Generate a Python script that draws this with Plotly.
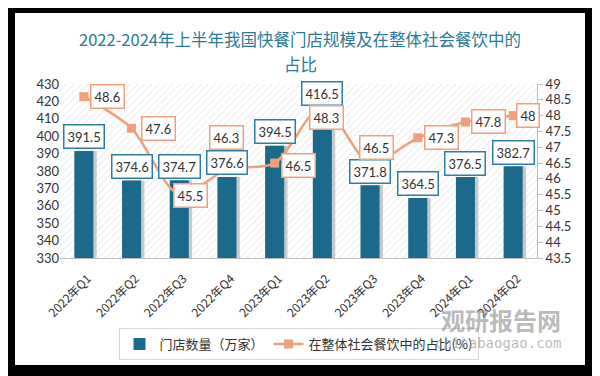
import plotly.graph_objects as go

categories = ["2022年Q1", "2022年Q2", "2022年Q3", "2022年Q4", "2023年Q1",
              "2023年Q2", "2023年Q3", "2023年Q4", "2024年Q1", "2024年Q2"]
stores = [391.5, 374.6, 374.7, 376.6, 394.5, 416.5, 371.8, 364.5, 376.5, 382.7]
share = [48.6, 47.6, 45.5, 46.3, 46.5, 48.3, 46.5, 47.3, 47.8, 48]
bar_name = "门店数量（万家）"
line_name = "在整体社会餐饮中的占比(%)"
title_line1 = "2022-2024年上半年我国快餐门店规模及在整体社会餐饮中的"
title_line2 = "占比"

# label offsets (pixels) for line labels
line_dx = [24, 27, 11, 0, 24, 4, 6, 24, 23, 15]
line_dy = [0, 0, -1, 32, -2, -11, 16, 0, 0, 0]

BAR = "#1C6A8B"
ORANGE = "#F0A07C"
TITLE_COLOR = "#2B7A9B"
xs = list(range(len(categories)))

# plot area in figure pixels
L, R, T, B = 52, 529, 76, 250
PW, PH = R - L, B - T


def px_x(p):
    return (p - L) / PW


def px_y(p):
    return (B - p) / PH


fig = go.Figure()

# hatched plot background
fig.add_trace(go.Bar(x=[4.5], y=[1], width=[10], xaxis="x", yaxis="y",
                     marker=dict(color="white", line=dict(width=0),
                                 pattern=dict(shape="/", fgcolor="#d6d6d6", bgcolor="white",
                                              size=5, solidity=0.2)),
                     showlegend=False, hoverinfo="skip"))

# bar shadows
fig.add_trace(go.Bar(x=xs, y=[v - 330 for v in stores], base=330, yaxis="y2", width=0.4, offset=-0.13,
                     marker=dict(color="rgba(110,110,110,0.35)", line=dict(width=0)),
                     showlegend=False, hoverinfo="skip"))
fig.add_trace(go.Bar(x=xs, y=[v - 330 for v in stores], base=330, yaxis="y2", width=0.4, offset=-0.2,
                     marker=dict(color=BAR, line=dict(width=0)), name=bar_name))
fig.add_trace(go.Scatter(x=xs, y=share, yaxis="y3", mode="lines+markers", name=line_name,
                         line=dict(color=ORANGE, width=2.5, shape="spline", smoothing=0.8),
                         marker=dict(symbol="square", size=9, color=ORANGE)))

ann = []
for i, v in enumerate(stores):
    ann.append(dict(x=i, y=v, xref="x", yref="y2", text=f"{v}", showarrow=False,
                    yshift=14, bgcolor="white", bordercolor="#2F7DA3", borderwidth=1.5,
                    borderpad=3, font=dict(size=13, color="#333333", family="Lato")))
for i, v in enumerate(share):
    ann.append(dict(x=i, y=v, xref="x", yref="y3", text=f"{v:g}", showarrow=False,
                    xshift=line_dx[i], yshift=line_dy[i], bgcolor="white", bordercolor=ORANGE,
                    borderwidth=1.5, borderpad=3, font=dict(size=13, color="#333333", family="Lato")))

# second title line
ann.append(dict(x=px_x(292), y=px_y(56), xref="paper", yref="paper", text=title_line2,
                showarrow=False, xanchor="center", yanchor="middle",
                font=dict(size=16.5, color=TITLE_COLOR, family="Noto Sans CJK SC")))

# watermark
ann.append(dict(x=px_x(493), y=px_y(311), xref="paper", yref="paper", text="<b>观研报告网</b>",
                showarrow=False, xanchor="center", yanchor="middle",
                font=dict(size=24, color="rgba(140,140,140,0.6)", family="Noto Sans CJK SC")))
ann.append(dict(x=px_x(490), y=px_y(335), xref="paper", yref="paper", text="chinabaogao.com",
                showarrow=False, xanchor="center", yanchor="middle",
                font=dict(size=14, color="rgba(140,140,140,0.6)", family="DejaVu Sans Mono")))

fig.update_layout(
    width=600, height=376,
    margin=dict(l=L, r=600 - R, t=T, b=376 - B),
    paper_bgcolor="black", plot_bgcolor="white",
    barmode="overlay",
    title=dict(text=title_line1, x=292 / 600, xanchor="center", y=1 - 32 / 376, yanchor="middle",
               yref="container",
               font=dict(size=16.5, color=TITLE_COLOR, family="Noto Sans CJK SC")),
    xaxis=dict(range=[-0.5, 9.5], tickvals=xs, ticktext=categories, tickangle=-45,
               showline=True, linecolor="#bfbfbf", linewidth=1, showgrid=False, ticks="",
               ticklabelstandoff=8, ticklabelshift=4,
               tickfont=dict(size=12, color="#333333", family="Noto Sans CJK SC"), zeroline=False),
    yaxis=dict(range=[0, 1], visible=False, fixedrange=True),
    yaxis2=dict(range=[330, 430], dtick=10, overlaying="y", side="left", showgrid=False,
                showline=False, ticks="", zeroline=False,
                tickfont=dict(size=13, color="#333333", family="Lato")),
    yaxis3=dict(range=[43.5, 49], dtick=0.5, overlaying="y", side="right", showgrid=False,
                showline=True, linecolor="#bfbfbf", ticks="outside", ticklen=5, tickcolor="#bfbfbf",
                zeroline=False, tickfont=dict(size=13, color="#333333", family="Lato")),
    legend=dict(orientation="h", x=0.5, xanchor="center", y=px_y(320), yanchor="top",
                bordercolor="#d9d9d9", borderwidth=1, bgcolor="rgba(255,255,255,0)",
                font=dict(size=13, color="#333333", family="Noto Sans CJK SC"),
                itemwidth=30),
    annotations=ann,
    shapes=[dict(type="rect", xref="paper", yref="paper", layer="below",
                 x0=px_x(7), x1=px_x(577), y0=px_y(357), y1=px_y(5),
                 fillcolor="white", line=dict(width=0))],
)

fig.write_html("out.html")
